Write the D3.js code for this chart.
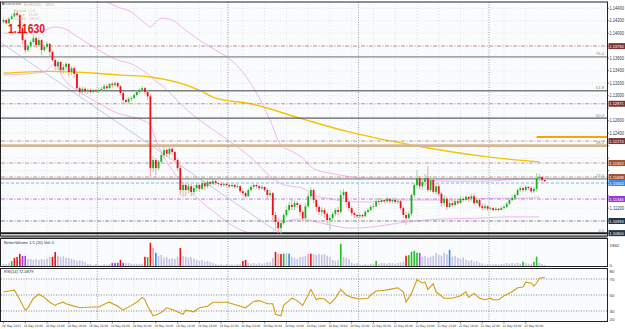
<!DOCTYPE html>
<html>
<head>
<meta charset="utf-8">
<script src="https://cdn.jsdelivr.net/npm/d3@7/dist/d3.min.js"></script>
<style>
  body { margin: 0; background: #fff; }
  svg { display: block; font-family: "Liberation Sans Narrow", "Liberation Sans", "DejaVu Sans", sans-serif; }
</style>
</head>
<body>
<svg id="chart" width="625" height="329"></svg>
<script>
// EURUSD M30, 200 bars
const opens = [
  1.1418,1.1421,1.1416,1.1423,1.1427,1.1432,1.1429,1.1408,1.1389,1.1373,
  1.1379,1.1386,1.1392,1.1381,1.1389,1.1373,1.1378,1.1383,1.1370,1.1357,
  1.1347,1.1354,1.1341,1.1346,1.1351,1.1338,1.1344,1.1335,1.1312,1.1306,
  1.1311,1.1307,1.1309,1.1306,1.1309,1.1307,1.1309,1.1311,1.1315,1.1312,
  1.1319,1.1317,1.1320,1.1315,1.1304,1.1293,1.1290,1.1295,1.1296,1.1301,
  1.1306,1.1309,1.1312,1.1306,1.1299,1.1184,1.1197,1.1184,1.1194,1.1205,
  1.1213,1.1207,1.1215,1.1210,1.1197,1.1184,1.1149,1.1157,1.1149,1.1155,
  1.1146,1.1152,1.1157,1.1151,1.1160,1.1155,1.1162,1.1159,1.1163,1.1160,
  1.1159,1.1157,1.1159,1.1157,1.1155,1.1157,1.1154,1.1155,1.1147,1.1144,
  1.1139,1.1149,1.1154,1.1157,1.1155,1.1152,1.1154,1.1149,1.1141,1.1144,
  1.1109,1.1098,1.1088,1.1096,1.1109,1.1117,1.1125,1.1122,1.1128,1.1125,
  1.1114,1.1104,1.1123,1.1139,1.1149,1.1133,1.1122,1.1114,1.1117,1.1111,
  1.1101,1.1104,1.1111,1.1117,1.1114,1.1141,1.1146,1.1130,1.1120,1.1112,
  1.1109,1.1107,1.1109,1.1107,1.1114,1.1117,1.1122,1.1123,1.1131,1.1130,
  1.1133,1.1131,1.1135,1.1131,1.1133,1.1130,1.1131,1.1120,1.1109,1.1104,
  1.1111,1.1141,1.1157,1.1168,1.1155,1.1162,1.1168,1.1149,1.1165,1.1146,
  1.1155,1.1143,1.1128,1.1135,1.1122,1.1128,1.1125,1.1131,1.1128,1.1135,
  1.1133,1.1138,1.1135,1.1139,1.1128,1.1133,1.1123,1.1120,1.1123,1.1119,
  1.1120,1.1117,1.1119,1.1117,1.1120,1.1122,1.1127,1.1133,1.1136,1.1141,
  1.1149,1.1152,1.1149,1.1154,1.1152,1.1147,1.1151,1.1168,1.1170,1.1165
];
const highs = [
  1.1424,1.1423,1.1426,1.1431,1.1437,1.1435,1.1431,1.1410,1.1392,1.1383,
  1.1389,1.1397,1.1395,1.1394,1.1391,1.1381,1.1387,1.1384,1.1373,1.1360,
  1.1357,1.1355,1.1351,1.1354,1.1352,1.1347,1.1347,1.1338,1.1315,1.1314,
  1.1314,1.1312,1.1312,1.1311,1.1311,1.1312,1.1314,1.1319,1.1317,1.1320,
  1.1322,1.1322,1.1322,1.1317,1.1306,1.1296,1.1298,1.1299,1.1304,1.1309,
  1.1312,1.1315,1.1314,1.1309,1.1303,1.1203,1.1200,1.1197,1.1210,1.1218,
  1.1216,1.1219,1.1218,1.1211,1.1200,1.1189,1.1162,1.1160,1.1159,1.1159,
  1.1157,1.1160,1.1159,1.1165,1.1163,1.1165,1.1163,1.1167,1.1165,1.1162,
  1.1160,1.1160,1.1160,1.1159,1.1160,1.1159,1.1159,1.1157,1.1151,1.1147,
  1.1152,1.1157,1.1159,1.1159,1.1157,1.1157,1.1155,1.1152,1.1149,1.1146,
  1.1114,1.1104,1.1101,1.1112,1.1123,1.1130,1.1133,1.1133,1.1131,1.1128,
  1.1117,1.1128,1.1144,1.1154,1.1151,1.1136,1.1125,1.1122,1.1120,1.1114,
  1.1109,1.1114,1.1120,1.1122,1.1149,1.1151,1.1147,1.1133,1.1123,1.1115,
  1.1111,1.1112,1.1111,1.1117,1.1120,1.1125,1.1128,1.1136,1.1135,1.1136,
  1.1135,1.1138,1.1136,1.1136,1.1135,1.1135,1.1133,1.1123,1.1114,1.1115,
  1.1144,1.1160,1.1181,1.1171,1.1167,1.1175,1.1187,1.1171,1.1168,1.1160,
  1.1159,1.1146,1.1141,1.1138,1.1133,1.1133,1.1135,1.1135,1.1139,1.1138,
  1.1141,1.1139,1.1143,1.1144,1.1138,1.1135,1.1127,1.1127,1.1125,1.1123,
  1.1122,1.1122,1.1120,1.1123,1.1125,1.1130,1.1136,1.1141,1.1144,1.1152,
  1.1155,1.1154,1.1157,1.1155,1.1155,1.1154,1.1176,1.1175,1.1171,1.1168
];
const lows = [
  1.1416,1.1415,1.1415,1.1421,1.1426,1.1426,1.1405,1.1383,1.1368,1.1370,
  1.1376,1.1383,1.1376,1.1378,1.1365,1.1370,1.1375,1.1363,1.1354,1.1341,
  1.1341,1.1336,1.1335,1.1341,1.1331,1.1333,1.1328,1.1306,1.1301,1.1303,
  1.1304,1.1303,1.1303,1.1304,1.1306,1.1304,1.1307,1.1309,1.1309,1.1311,
  1.1312,1.1314,1.1312,1.1301,1.1288,1.1287,1.1287,1.1291,1.1295,1.1299,
  1.1303,1.1306,1.1301,1.1293,1.1170,1.1178,1.1173,1.1181,1.1191,1.1200,
  1.1202,1.1203,1.1205,1.1194,1.1179,1.1141,1.1138,1.1139,1.1143,1.1139,
  1.1141,1.1146,1.1146,1.1149,1.1149,1.1152,1.1155,1.1157,1.1157,1.1155,
  1.1154,1.1155,1.1154,1.1152,1.1154,1.1151,1.1152,1.1144,1.1141,1.1136,
  1.1138,1.1146,1.1151,1.1152,1.1149,1.1149,1.1146,1.1136,1.1138,1.1098,
  1.1088,1.1080,1.1079,1.1093,1.1106,1.1114,1.1117,1.1117,1.1120,1.1107,
  1.1099,1.1103,1.1120,1.1135,1.1128,1.1114,1.1109,1.1107,1.1104,1.1095,
  1.1085,1.1099,1.1107,1.1109,1.1111,1.1135,1.1123,1.1115,1.1107,1.1104,
  1.1104,1.1104,1.1104,1.1106,1.1112,1.1115,1.1119,1.1122,1.1125,1.1127,
  1.1128,1.1128,1.1128,1.1128,1.1127,1.1127,1.1117,1.1104,1.1093,1.1101,
  1.1107,1.1136,1.1152,1.1149,1.1149,1.1155,1.1146,1.1146,1.1143,1.1141,
  1.1139,1.1122,1.1123,1.1117,1.1120,1.1122,1.1123,1.1125,1.1127,1.1130,
  1.1131,1.1130,1.1131,1.1125,1.1127,1.1120,1.1117,1.1117,1.1115,1.1117,
  1.1115,1.1115,1.1115,1.1117,1.1119,1.1120,1.1125,1.1131,1.1135,1.1139,
  1.1146,1.1146,1.1147,1.1149,1.1144,1.1144,1.1146,1.1163,1.1162,1.1162
];
const closes = [
  1.1421,1.1416,1.1423,1.1427,1.1432,1.1429,1.1408,1.1389,1.1373,1.1379,
  1.1386,1.1392,1.1381,1.1389,1.1373,1.1378,1.1383,1.1370,1.1357,1.1347,
  1.1354,1.1341,1.1346,1.1351,1.1338,1.1344,1.1335,1.1312,1.1306,1.1311,
  1.1307,1.1309,1.1306,1.1309,1.1307,1.1309,1.1311,1.1315,1.1312,1.1319,
  1.1317,1.1320,1.1315,1.1304,1.1293,1.1290,1.1295,1.1296,1.1301,1.1306,
  1.1309,1.1312,1.1306,1.1299,1.1184,1.1197,1.1184,1.1194,1.1205,1.1213,
  1.1207,1.1215,1.1210,1.1197,1.1184,1.1149,1.1157,1.1149,1.1155,1.1146,
  1.1152,1.1157,1.1151,1.1160,1.1155,1.1162,1.1159,1.1163,1.1160,1.1159,
  1.1157,1.1159,1.1157,1.1155,1.1157,1.1154,1.1155,1.1147,1.1144,1.1139,
  1.1149,1.1154,1.1157,1.1155,1.1152,1.1154,1.1149,1.1141,1.1144,1.1109,
  1.1098,1.1088,1.1096,1.1109,1.1117,1.1125,1.1122,1.1128,1.1125,1.1114,
  1.1104,1.1123,1.1139,1.1149,1.1133,1.1122,1.1114,1.1117,1.1111,1.1101,
  1.1104,1.1111,1.1117,1.1114,1.1141,1.1146,1.1130,1.1120,1.1112,1.1109,
  1.1107,1.1109,1.1107,1.1114,1.1117,1.1122,1.1123,1.1131,1.1130,1.1133,
  1.1131,1.1135,1.1131,1.1133,1.1130,1.1131,1.1120,1.1109,1.1104,1.1111,
  1.1141,1.1157,1.1168,1.1155,1.1162,1.1168,1.1149,1.1165,1.1146,1.1155,
  1.1143,1.1128,1.1135,1.1122,1.1128,1.1125,1.1131,1.1128,1.1135,1.1133,
  1.1138,1.1135,1.1139,1.1128,1.1133,1.1123,1.1120,1.1123,1.1119,1.1120,
  1.1117,1.1119,1.1117,1.1120,1.1122,1.1127,1.1133,1.1136,1.1141,1.1149,
  1.1152,1.1149,1.1154,1.1152,1.1147,1.1151,1.1168,1.1170,1.1165,1.1163
];

// tick volume per bar and the colour class the volume indicator gave it
const volumes = [
  170,160,250,420,690,760,1030,850,860,600,
  590,520,600,510,580,530,610,760,770,1190,
  840,770,830,690,680,600,520,430,500,440,
  350,180,160,90,170,100,80,170,110,160,
  260,250,270,520,260,240,250,190,170,180,
  160,190,780,760,1960,1540,1110,860,930,700,
  760,610,670,600,780,1520,840,780,690,750,
  610,520,440,500,350,420,330,260,180,100,
  150,90,160,110,140,100,150,190,430,510,
  270,190,250,180,260,200,240,350,330,680,
  1190,1030,1010,1050,1100,1040,770,690,610,760,
  790,850,1010,1040,1020,930,1030,950,1010,860,
  780,520,430,510,1880,770,690,590,270,180,
  240,110,90,160,100,170,180,430,190,250,
  230,200,260,240,190,270,280,360,870,920,
  1200,1280,1130,1100,780,850,700,790,870,1090,
  950,880,1120,1000,1370,800,840,700,620,740,
  540,450,500,370,410,290,200,110,160,120,
  150,170,100,160,190,240,200,260,210,270,
  190,360,240,200,180,350,790,260,170,80
];
const volKinds =
  "nnngrrrpp" + "nnnnnnnnn" + "rrk" + "nnnnnnnnnnnnnnnnnnn" + "ppprp" + "nnnnnnn" +
  "rgrkb" + "nnnnnnnn" + "r" + "nnnnnnnnnnnnnnnnnnnnnn" + "rr" + "nnnnnnnnnn" +
  "rkrgnb" + "nnnnnn" + "kr" + "nnnnnnnnnn" + "g" + "nnnnnnnnnnnn" + "g" +
  "nnnnnnnnnn" + "rggggp" + "nnnnnnnnnn" + "b" + "nnnnnnnnnnnnnnnnnnnnnnnnnn" +
  "g" + "nnn" + "gg" + "nnn";

// RSI(14), read at these bars
const rsiBars = [0,2,4,6,8,9,11,13,15,17,19,20,22,23,25,28,32,35,38,39,42,44,47,49,51,52,53,55,56,58,
  60,62,66,67,70,72,75,77,82,84,89,92,94,97,99,100,102,103,105,106,108,110,112,113,115,116,118,120,
  122,124,126,128,131,134,135,137,140,142,145,147,148,150,152,154,155,156,158,159,162,165,168,170,
  171,173,175,177,179,180,182,184,187,189,191,192,194,195,196,197,199];
const rsiValues = [54,55,56,44,31,34,46,51,47,41,37,39,41,39,37,34,35,35,40,41,36,31,37,41,47,44,36,24,25,28,
  34,32,26,31,29,34,36,41,41,39,34,42,43,39,39,26,24,37,43,46,43,37,50,57,44,46,45,39,
  46,57,50,47,45,46,50,55,56,57,59,54,41,52,69,65,66,57,64,54,46,46,49,54,
  47,52,46,44,46,44,44,49,54,59,60,66,65,61,65,71,72.09];

// slow moving average (gold) at sampled bars
const maBars = [0,17,34,43,54,72,78,91,109,127,150,178,197];
const maValues = [1.1336,1.1339,1.1336,1.1333,1.1330,1.1309,1.1296,1.1287,1.1264,1.1242,1.1221,1.1202,1.1194];

// envelope bands (pink) at sampled bars
const bandBars = [0,8,15,19,22,28,35,42,47,52,54,56,58,62,66,72,78,85,92,98,102,106,110,114,120,128,136,145,155,165,175,185,192,197];
const bandUpper = [1.1467,1.1466,1.1472,1.1469,1.1488,1.1479,1.1458,1.1442,1.1434,1.1416,1.1410,1.1418,1.1424,1.1421,1.1408,1.1389,1.1373,1.1352,1.1312,1.1261,1.1221,1.1211,1.1200,1.1183,1.1176,1.1170,1.1168,1.1168,1.1165,1.1163,1.1163,1.1165,1.1167,1.1168];
const bandMid = [1.1400,1.1400,1.1405,1.1410,1.1408,1.1392,1.1373,1.1357,1.1351,1.1338,1.1331,1.1323,1.1317,1.1301,1.1283,1.1261,1.1243,1.1221,1.1197,1.1171,1.1159,1.1155,1.1152,1.1141,1.1135,1.1130,1.1130,1.1133,1.1133,1.1133,1.1135,1.1136,1.1136,1.1138];
const bandLower = [1.1333,1.1335,1.1338,1.1351,1.1328,1.1306,1.1288,1.1272,1.1266,1.1259,1.1253,1.1229,1.1210,1.1181,1.1159,1.1133,1.1112,1.1090,1.1080,1.1080,1.1095,1.1101,1.1103,1.1099,1.1093,1.1088,1.1090,1.1096,1.1101,1.1103,1.1104,1.1106,1.1106,1.1106];

// drawn objects
const trendBars = [-1.3, 101.7];
const trendPrices = [1.1386, 1.1079];
const fibLabels = ["0.0", "23.6", "38.2", "50.0", "61.8", "76.4"];
const fibPrices = [1.1080, 1.1167, 1.1220, 1.1264, 1.1308, 1.1362];
const roseLevels = [1.13794, 1.12871, 1.12274, 1.11922, 1.11698];
const purpleLevels = [1.11346];
const slateLevels = [1.10994];
const blueLevels = [1.11602];
const targetLevel = 1.12338;
const targetFromBar = 196;

const priceTicks = [1.1440,1.1420,1.1400,1.1380,1.1360,1.1340,1.1320,1.1300,1.1280,1.1260,1.1240,1.1220,1.1200,1.1180,1.1160,1.1140,1.1120,1.1100,1.1080];
const rsiTicks = [80, 70, 50, 30, 20];
const rsiLevels = [70, 50, 30];
const timeLabels = ["18 May 2015","18 May 10:00","18 May 14:00","18 May 18:00","18 May 22:00","19 May 02:00",
  "19 May 06:00","19 May 10:00","19 May 14:00","19 May 18:00","19 May 22:00","20 May 02:00","20 May 06:00",
  "20 May 10:00","20 May 14:00","20 May 18:00","20 May 22:00","21 May 02:00","21 May 06:00","21 May 10:00",
  "21 May 14:00","21 May 18:00","21 May 22:00","22 May 02:00","22 May 06:00"];
const labelEvery = 8;
const daySeparators = [34.5, 82.5, 130.5, 178.5];

const infoLines = [["EURUSD", "M30"], ["Spread", "0.4"], ["Range", "13.69"], ["Candle", "18:15"]];
const bidText = "1.11630";
const rsiTitle = "RSI(14) 72.0879";
const volTitle = "BetterVolume 1.5 (20)  Vol: 0";
const volTicks = [1862, 0];

// ---- layout
const W = 625, PR = 607.5;
const MAIN = { top: 2, bottom: 236 };
const VOL = { top: 238.5, bottom: 266.5 };
const RSI = { top: 268.5, bottom: 321.5 };
const TINY = "DejaVu Sans Condensed, Liberation Sans Narrow, sans-serif";

const UP = "#1fae1f", DOWN = "#e8121c";
const VOL_COLORS = { n: "#c3c3e6", r: "#e8121c", k: "#f2a2aa", g: "#25c025", b: "#2e8cf2", p: "#a33ff0" };

const svg = d3.select("#chart");
const x = d3.scaleLinear().domain([0, 199]).range([3.5, 544.8]);
const y = d3.scaleLinear().domain([1.10754, 1.1450]).range([MAIN.bottom, MAIN.top]);
const yVol = d3.scaleLinear().domain([0, 2200]).range([266, 240]);
const yRsi = d3.scaleLinear().domain([20, 80]).range([319, 271]);
const fmt5 = (p) => p.toFixed(5);

svg.append("rect").attr("width", W).attr("height", 329).attr("fill", "#fff");
[MAIN, VOL, RSI].forEach((p) => {
  svg.append("rect").attr("x", 0.5).attr("y", p.top).attr("width", PR - 0.5)
    .attr("height", p.bottom - p.top).attr("fill", "#f9fbfc");
});

const defs = svg.append("defs");
defs.append("clipPath").attr("id", "clipMain").append("rect")
  .attr("x", 1).attr("y", MAIN.top).attr("width", PR - 1).attr("height", MAIN.bottom - MAIN.top);
defs.append("clipPath").attr("id", "clipRsi").append("rect")
  .attr("x", 1).attr("y", RSI.top).attr("width", PR - 1).attr("height", RSI.bottom - RSI.top);

// ---- grid
const grid = svg.append("g");
const labelBars = timeLabels.map((_, k) => k * labelEvery);
[MAIN, VOL, RSI].forEach((p) => {
  grid.selectAll(null).data(labelBars).join("line")
    .attr("x1", (b) => x(b)).attr("x2", (b) => x(b))
    .attr("y1", p.top).attr("y2", p.bottom)
    .attr("stroke", "#d4d8dc").attr("stroke-width", 0.6).attr("stroke-dasharray", "1,2");
  grid.selectAll(null).data(daySeparators).join("line")
    .attr("x1", (b) => x(b)).attr("x2", (b) => x(b))
    .attr("y1", p.top).attr("y2", p.bottom)
    .attr("stroke", "#8a8a8a").attr("stroke-width", 0.8).attr("stroke-dasharray", "1,1.5");
});
grid.selectAll(null).data(priceTicks).join("line")
  .attr("x1", 1).attr("x2", PR).attr("y1", (p) => y(p)).attr("y2", (p) => y(p))
  .attr("stroke", "#d4d8dc").attr("stroke-width", 0.6).attr("stroke-dasharray", "1,2");

// ---- main panel
const main = svg.append("g").attr("clip-path", "url(#clipMain)");

const bandLine = (vals) => d3.line().curve(d3.curveMonotoneX)
  .x((b) => x(b)).y((b, i) => y(vals[i]))(bandBars);
[bandUpper, bandMid, bandLower].forEach((vals) => {
  main.append("path").attr("d", bandLine(vals))
    .attr("fill", "none").attr("stroke", "#f4b4ee").attr("stroke-width", 1);
});

main.append("path")
  .attr("d", d3.line().curve(d3.curveMonotoneX).x((b) => x(b)).y((b, i) => y(maValues[i]))(maBars))
  .attr("fill", "none").attr("stroke", "#f5c400").attr("stroke-width", 1.4);

main.append("line")
  .attr("x1", x(trendBars[0])).attr("y1", y(trendPrices[0]))
  .attr("x2", x(trendBars[1])).attr("y2", y(trendPrices[1]))
  .attr("stroke", "#b9c6e4").attr("stroke-width", 0.9);

function hLines(levels, color, dash, width) {
  main.selectAll(null).data(levels).join("line")
    .attr("x1", 1).attr("x2", PR).attr("y1", (p) => y(p)).attr("y2", (p) => y(p))
    .attr("stroke", color).attr("stroke-width", width).attr("stroke-dasharray", dash);
}
hLines(roseLevels, "#b88c8c", "4,1.5,1,1.5", 0.9);
hLines(purpleLevels, "#b56be0", "4,1.5,1,1.5", 0.9);
hLines(slateLevels, "#7d7d86", "4,1.5,1,1.5", 0.9);
hLines(blueLevels, "#86b8f2", "3,2", 1);

// fibonacci retracement
const fibStyle = [
  { c: "#1e1e1e", w: 2 }, { c: "#8c8c8c", w: 1.2 }, { c: "#d2b896", w: 2.6 },
  { c: "#5e5e5e", w: 1.3 }, { c: "#7c7c7c", w: 1.4 }, { c: "#8a8a8a", w: 1.2 }
];
main.selectAll(null).data(fibPrices).join("line")
  .attr("x1", 1).attr("x2", PR).attr("y1", (p) => y(p)).attr("y2", (p) => y(p))
  .attr("stroke", (p, i) => fibStyle[i].c).attr("stroke-width", (p, i) => fibStyle[i].w);
main.selectAll(null).data(fibPrices).join("text")
  .attr("x", 604).attr("y", (p) => y(p) - 1.6).attr("text-anchor", "end")
  .attr("font-size", 4.2).attr("fill", "#8a8a8a").text((p, i) => fibLabels[i]);

main.append("line")
  .attr("x1", x(targetFromBar)).attr("x2", PR).attr("y1", y(targetLevel)).attr("y2", y(targetLevel))
  .attr("stroke", "#f5a50c").attr("stroke-width", 2);

// candles
const bars = d3.range(closes.length);
const bw = 1.8;
main.selectAll("line.wick").data(bars).join("line").attr("class", "wick")
  .attr("x1", (i) => x(i)).attr("x2", (i) => x(i))
  .attr("y1", (i) => y(highs[i])).attr("y2", (i) => y(lows[i]))
  .attr("stroke", (i) => (closes[i] >= opens[i] ? "#8fd68f" : "#f39aa0")).attr("stroke-width", 0.9);
main.selectAll("rect.body").data(bars).join("rect").attr("class", "body")
  .attr("x", (i) => x(i) - bw / 2).attr("width", bw)
  .attr("y", (i) => y(Math.max(opens[i], closes[i])))
  .attr("height", (i) => Math.max(0.8, Math.abs(y(opens[i]) - y(closes[i]))))
  .attr("fill", (i) => (closes[i] >= opens[i] ? UP : DOWN));

// info block, top left
const info = svg.append("g");
info.append("rect").attr("x", 2).attr("y", 2.6).attr("width", 2.6).attr("height", 2.2).attr("fill", "#6a7a8a");
info.append("text").attr("x", 5.5).attr("y", 4.8).attr("font-size", 2.6).attr("font-family", TINY)
  .attr("fill", "#555").text("EURUSD,M30");
info.selectAll(null).data(infoLines).join("text")
  .attr("x", (d, i) => (i === 0 ? 24 : 14)).attr("y", (d, i) => (i === 0 ? 6 : 7.8 + i * 4.2))
  .attr("font-size", (d, i) => (i === 0 ? 4.2 : 3.7)).attr("fill", "#e9b48e")
  .text((d) => d[0] + "\u2003" + d[1]);
info.append("text").attr("x", 8).attr("y", 33).attr("font-size", 12.5).attr("font-weight", "bold")
  .attr("font-family", "Liberation Sans, Arial, sans-serif")
  .attr("textLength", 37).attr("lengthAdjust", "spacingAndGlyphs")
  .attr("fill", "#ee1010").text(bidText);

// ---- volume panel
svg.append("g").selectAll("rect").data(bars).join("rect")
  .attr("x", (i) => x(i) - 0.8).attr("width", 1.6)
  .attr("y", (i) => yVol(volumes[i])).attr("height", (i) => yVol(0) - yVol(volumes[i]))
  .attr("fill", (i) => VOL_COLORS[volKinds[i]]);
svg.append("text").attr("x", 4).attr("y", 243.5).attr("font-size", 4).attr("fill", "#333").text(volTitle);

// ---- RSI panel
const rsiG = svg.append("g").attr("clip-path", "url(#clipRsi)");
rsiG.selectAll(null).data(rsiLevels).join("line")
  .attr("x1", 1).attr("x2", PR).attr("y1", (v) => yRsi(v)).attr("y2", (v) => yRsi(v))
  .attr("stroke", "#5a5a5a").attr("stroke-width", 0.7).attr("stroke-dasharray", "1,1.5");
rsiG.append("path")
  .attr("d", d3.line().x((b) => x(b)).y((b, i) => yRsi(rsiValues[i]))(rsiBars))
  .attr("fill", "none").attr("stroke", "#d59d18").attr("stroke-width", 1.1);
svg.append("text").attr("x", 4).attr("y", 273).attr("font-size", 4).attr("fill", "#333").text(rsiTitle);

// ---- frames
[MAIN, VOL, RSI].forEach((p) => {
  svg.append("rect").attr("x", 0.5).attr("y", p.top).attr("width", PR - 0.5)
    .attr("height", p.bottom - p.top).attr("fill", "none").attr("stroke", "#222").attr("stroke-width", 1);
});
svg.append("line").attr("x1", 0.5).attr("x2", PR).attr("y1", 237).attr("y2", 237).attr("stroke", "#222");

// ---- right axis; plain ticks give way to the coloured level tags
const tagged = [...roseLevels, ...blueLevels, ...purpleLevels, ...slateLevels, fibPrices[0]];
const freeTicks = priceTicks.filter((p) => tagged.every((t) => Math.abs(y(t) - y(p)) > 6.6));
const axisG = svg.append("g").attr("font-size", 4.6).attr("fill", "#333");
axisG.selectAll(null).data(freeTicks).join("text")
  .attr("x", 609.5).attr("y", (p) => y(p) + 1.6)
  .attr("textLength", 14.5).attr("lengthAdjust", "spacingAndGlyphs").text(fmt5);
axisG.selectAll(null).data(priceTicks).join("line")
  .attr("x1", PR).attr("x2", PR + 1.5).attr("y1", (p) => y(p)).attr("y2", (p) => y(p))
  .attr("stroke", "#333").attr("stroke-width", 0.6);

function tagLevels(levels, fills) {
  const g = svg.append("g");
  g.selectAll("rect").data(levels).join("rect")
    .attr("x", PR + 1).attr("y", (p) => y(p) - 3).attr("width", 16.5).attr("height", 6)
    .attr("fill", (p, i) => fills[i % fills.length]);
  g.selectAll("text").data(levels).join("text")
    .attr("x", PR + 1.8).attr("y", (p) => y(p) + 1.6).attr("font-size", 4.4).attr("fill", "#fff")
    .attr("textLength", 14.5).attr("lengthAdjust", "spacingAndGlyphs").text(fmt5);
}
tagLevels(roseLevels, ["#7e3434", "#7e3434", "#7e3434", "#a3522e", "#a3522e"]);
tagLevels(blueLevels, ["#2f8ef0"]);
tagLevels(purpleLevels, ["#9b35dd"]);
tagLevels(slateLevels, ["#1f3547"]);
tagLevels([fibPrices[0]], ["#1f3547"]);

svg.append("g").attr("font-size", 4.4).attr("fill", "#333")
  .selectAll(null).data(volTicks).join("text")
  .attr("x", 609.5).attr("y", (v) => yVol(v) + (v === 0 ? 0.5 : 3)).text((v) => v);

svg.append("g").attr("font-size", 4.4).attr("fill", "#333")
  .selectAll(null).data(rsiTicks).join("text")
  .attr("x", 609.5).attr("y", (v) => yRsi(v) + 1.5).text((v) => v);

// ---- time axis
svg.append("g").attr("font-size", 3.2).attr("font-family", TINY).attr("fill", "#333")
  .selectAll(null).data(timeLabels).join("text")
  .attr("x", (d, k) => x(k * labelEvery) - 1.5).attr("y", 326.5)
  .attr("textLength", 19).attr("lengthAdjust", "spacingAndGlyphs").text((d) => d);
svg.selectAll(null).data(labelBars).join("line")
  .attr("x1", (b) => x(b)).attr("x2", (b) => x(b)).attr("y1", 321.5).attr("y2", 323.5)
  .attr("stroke", "#333").attr("stroke-width", 0.6);
</script>
</body>
</html>
